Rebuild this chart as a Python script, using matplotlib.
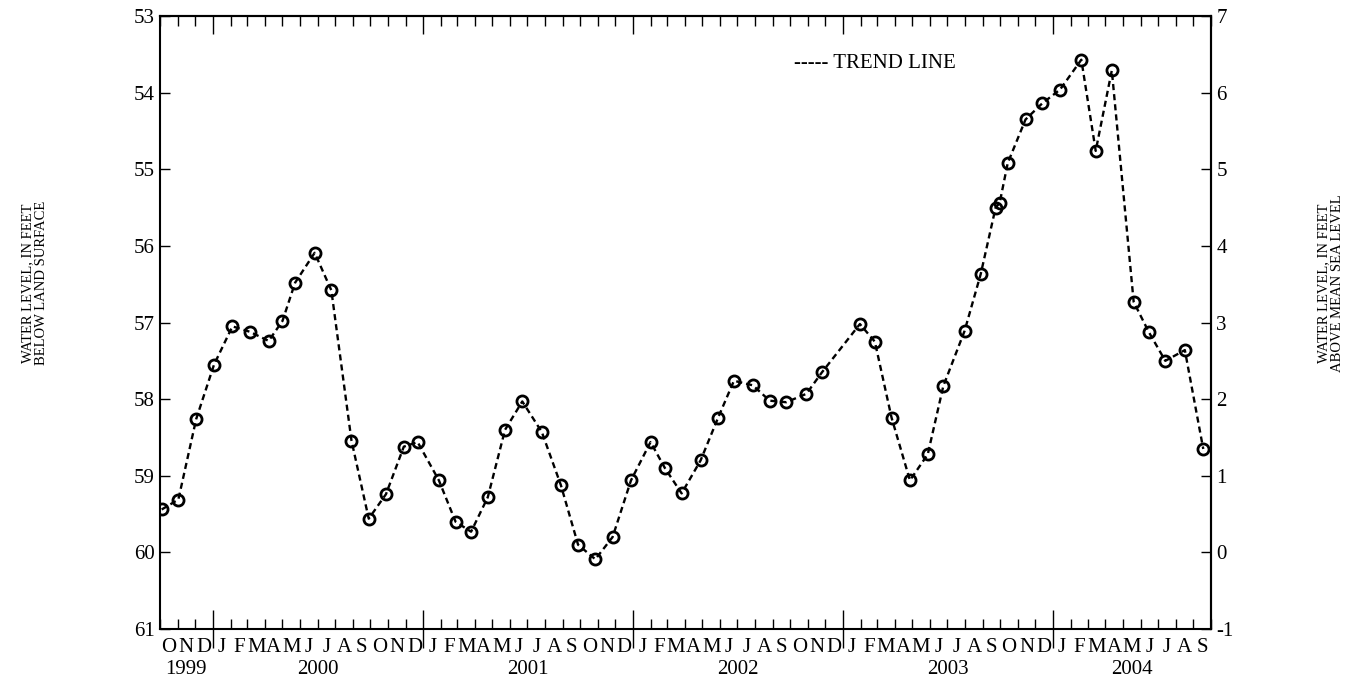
import datetime as dt

import matplotlib
matplotlib.use("Agg")
import matplotlib.pyplot as plt
import matplotlib.dates as mdates
from matplotlib.ticker import NullFormatter, NullLocator

plt.rcParams["font.family"] = ["Liberation Serif", "DejaVu Serif"]
plt.rcParams["axes.unicode_minus"] = False

# Measurement dates and depth to water (feet below land surface)
dates = [
    "1999-10-04", "1999-11-02", "1999-12-03", "2000-01-03", "2000-02-04",
    "2000-03-05", "2000-04-07", "2000-05-01", "2000-05-23", "2000-06-26",
    "2000-07-25", "2000-08-29", "2000-09-28", "2000-10-28", "2000-11-28",
    "2000-12-22", "2001-01-28", "2001-02-26", "2001-03-25", "2001-04-23",
    "2001-05-23", "2001-06-22", "2001-07-26", "2001-08-28", "2001-09-27",
    "2001-10-27", "2001-11-26", "2001-12-28", "2002-01-31", "2002-02-25",
    "2002-03-26", "2002-04-28", "2002-05-28", "2002-06-25", "2002-07-28",
    "2002-08-26", "2002-09-24", "2002-10-29", "2002-11-25", "2003-01-30",
    "2003-02-25", "2003-03-26", "2003-04-27", "2003-05-28", "2003-06-24",
    "2003-07-31", "2003-08-28", "2003-09-23", "2003-09-30", "2003-10-14",
    "2003-11-14", "2003-12-13", "2004-01-13", "2004-02-19", "2004-03-15",
    "2004-04-12", "2004-05-20", "2004-06-15", "2004-07-14", "2004-08-17",
    "2004-09-18",
]
depth_ft = [
    59.44, 59.31, 58.26, 57.55, 57.05, 57.12, 57.24, 56.98, 56.48, 56.09,
    56.58, 58.54, 59.56, 59.24, 58.62, 58.56, 59.06, 59.60, 59.73, 59.28,
    58.40, 58.03, 58.43, 59.12, 59.90, 60.09, 59.80, 59.06, 58.56, 58.90,
    59.23, 58.80, 58.25, 57.76, 57.82, 58.02, 58.04, 57.93, 57.65, 57.02,
    57.25, 58.24, 59.06, 58.72, 57.83, 57.11, 56.37, 55.50, 55.44, 54.92,
    54.35, 54.14, 53.96, 53.57, 54.76, 53.71, 56.73, 57.12, 57.50, 57.36,
    58.65,
]
land_surface_elev = 60.0  # feet above mean sea level
month_letters = "JFMAMJJASOND"
period_start = dt.date(1999, 10, 1)
period_end = dt.date(2004, 10, 1)

x = [dt.datetime.strptime(d, "%Y-%m-%d") for d in dates]

fig = plt.figure(figsize=(13.59, 6.79), dpi=100)
ax = fig.add_axes([0.1177, 0.0736, 0.7732, 0.9028])

ax.plot(x, depth_ft, color="black", lw=1.7, ls=(0, (2.6, 1.7)),
        marker="o", ms=8, mfc="none", mec="black", mew=2.0)

ax.set_xlim(period_start, period_end)
ax.set_ylim(61, 53)
ax.set_yticks(range(53, 62))

for sp in ax.spines.values():
    sp.set_linewidth(1.5)

# Month and year ticks along the bottom
ax.xaxis.set_major_locator(mdates.YearLocator())
ax.xaxis.set_minor_locator(mdates.MonthLocator())
ax.xaxis.set_major_formatter(NullFormatter())
ax.xaxis.set_minor_formatter(NullFormatter())
ax.tick_params(axis="x", which="major", direction="inout", length=28,
               width=1, top=False, bottom=True)
ax.tick_params(axis="x", which="minor", direction="in", length=7,
               width=1, top=True, bottom=True)

# Year ticks along the top point inward only
top = ax.secondary_xaxis("top")
top.xaxis.set_major_locator(mdates.YearLocator())
top.xaxis.set_minor_locator(NullLocator())
top.xaxis.set_major_formatter(NullFormatter())
top.tick_params(axis="x", which="major", direction="in", length=13, width=1)
top.spines["top"].set_linewidth(1.5)

ax.tick_params(axis="y", direction="in", length=7, width=1,
               labelsize=15, pad=4)

right = ax.secondary_yaxis(
    "right",
    functions=(lambda d: land_surface_elev - d, lambda e: land_surface_elev - e),
)
right.set_yticks(range(-1, 8))
right.tick_params(axis="y", direction="in", length=7, width=1,
                  labelsize=15, pad=4)
right.spines["right"].set_linewidth(1.5)

# Month initials centred in each month, years centred under their months
xt = ax.get_xaxis_transform()
y0, m0 = period_start.year, period_start.month
n_months = (period_end.year - y0) * 12 + period_end.month - m0
for i in range(n_months):
    k = m0 - 1 + i
    start = dt.date(y0 + k // 12, k % 12 + 1, 1)
    k1 = k + 1
    end = dt.date(y0 + k1 // 12, k1 % 12 + 1, 1)
    mid = mdates.date2num(start) + (mdates.date2num(end) - mdates.date2num(start)) / 2
    ax.text(mid, -0.0375, month_letters[start.month - 1], transform=xt,
            ha="center", va="baseline", fontsize=15)

for yr in range(period_start.year, period_end.year + 1):
    a = max(dt.date(yr, 1, 1), period_start)
    b = min(dt.date(yr + 1, 1, 1), period_end)
    mid = (mdates.date2num(a) + mdates.date2num(b)) / 2
    ax.text(mid, -0.0734, str(yr), transform=xt,
            ha="center", va="baseline", fontsize=15)

ax.text(0.6034, 0.915, "----- TREND LINE", transform=ax.transAxes,
        ha="left", va="baseline", fontsize=15)

fig.text(0.0255, 0.583, "WATER LEVEL, IN FEET\nBELOW LAND SURFACE",
         rotation=90, ha="center", va="center", fontsize=10.5,
         multialignment="center", linespacing=1.15)
fig.text(0.979, 0.583, "WATER LEVEL, IN FEET\nABOVE MEAN SEA LEVEL",
         rotation=90, ha="center", va="center", fontsize=10.5,
         multialignment="center", linespacing=1.15)

fig.savefig("out.png", dpi=100)
